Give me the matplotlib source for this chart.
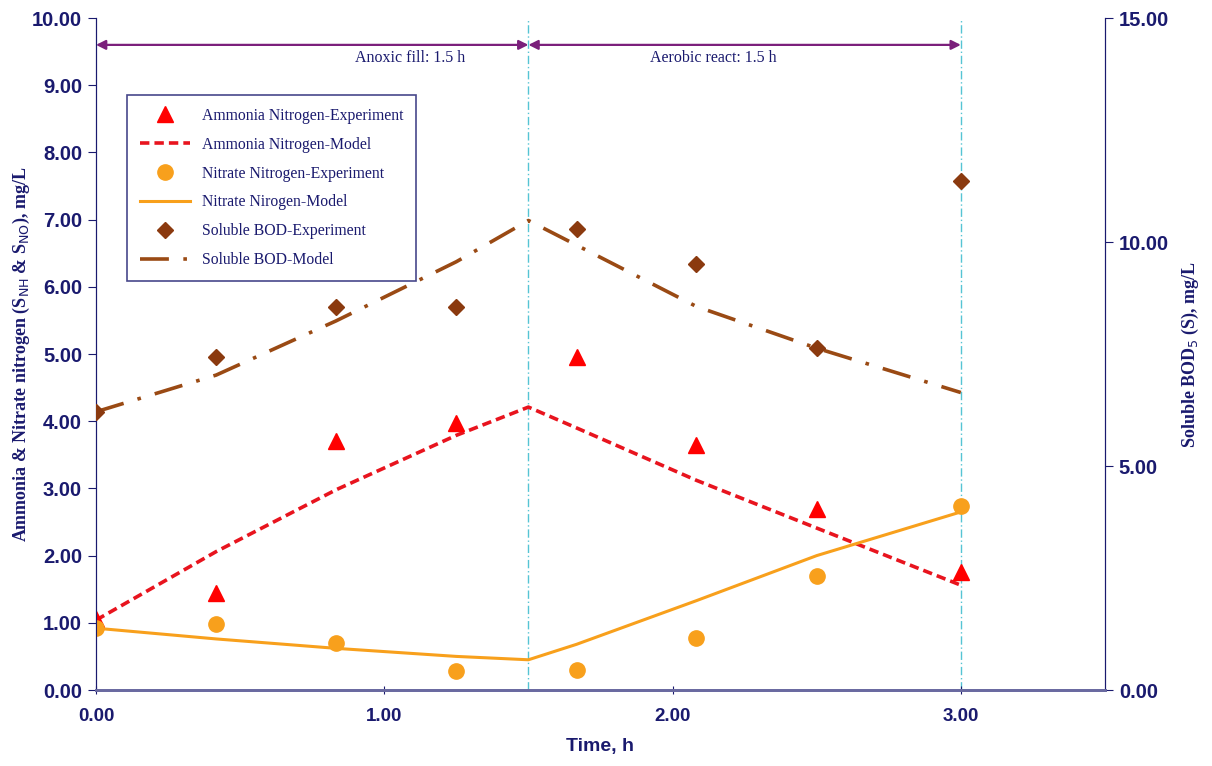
import matplotlib
matplotlib.use("Agg")
import matplotlib.pyplot as plt
import numpy as np

plt.rcParams['font.family'] = ['Liberation Sans', 'DejaVu Sans']

# === data ===
t_exp = [0.0, 0.417, 0.833, 1.25, 1.667, 2.083, 2.5, 3.0]
nh_exp = [1.05, 1.45, 3.70, 3.97, 4.96, 3.65, 2.70, 1.75]
no_exp = [0.92, 0.98, 0.70, 0.29, 0.30, 0.77, 1.70, 2.74]
bod_exp = [6.20, 7.44, 8.56, 8.56, 10.30, 9.50, 7.63, 11.37]

t_mod = [0.0, 0.417, 0.833, 1.25, 1.5, 1.667, 2.083, 2.5, 3.0]
nh_mod = [1.04, 2.06, 2.98, 3.79, 4.21, 3.90, 3.12, 2.41, 1.56]
no_mod = [0.92, 0.76, 0.62, 0.50, 0.45, 0.68, 1.33, 2.00, 2.65]
bod_mod = [6.21, 7.03, 8.24, 9.56, 10.48, 9.93, 8.56, 7.63, 6.64]

phases = [(0.0, 1.5, "Anoxic fill: 1.5 h", 1.09), (1.5, 3.0, "Aerobic react: 1.5 h", 2.14)]

navy = "#1a1a6e"
serif = ["Liberation Serif", "DejaVu Serif"]

fig = plt.figure(figsize=(12.12, 7.66), dpi=100)
ax = fig.add_axes([0.0792, 0.0992, 0.8325, 0.8773])
ax2 = ax.twinx()

# === phase markers ===
for x in [1.5, 3.0]:
    ax.axvline(x, color="#55c4d4", lw=1.0, ls=(0, (6, 2, 1, 2)), zorder=1)
for x0, x1, label, xt in phases:
    ax.annotate("", xy=(x1, 9.6), xytext=(x0, 9.6),
                arrowprops=dict(arrowstyle="<|-|>", color="#7b1f7b", lw=1.6,
                                mutation_scale=14, shrinkA=0, shrinkB=0))
    ax.text(xt, 9.4, label, ha="center", va="center", fontsize=11.5,
            family=serif, color=navy)

# === series ===
l1, = ax.plot(t_exp, nh_exp, ls="none", marker="^", ms=11, color="#ff0000",
              label="Ammonia Nitrogen-Experiment", zorder=4)
l2, = ax.plot(t_mod, nh_mod, ls=(0, (2.6, 1.4)), lw=2.6, color="#e8141e",
              label="Ammonia Nitrogen-Model", zorder=3)
l3, = ax.plot(t_exp, no_exp, ls="none", marker="o", ms=11, color="#f8a01c",
              label="Nitrate Nitrogen-Experiment", zorder=4)
l4, = ax.plot(t_mod, no_mod, ls="-", lw=2.2, color="#f8a01c",
              label="Nitrate Nirogen-Model", zorder=3)
l5, = ax2.plot(t_exp, bod_exp, ls="none", marker="D", ms=8.5, color="#8b3a0f",
               label="Soluble BOD-Experiment", zorder=4)
l6, = ax2.plot(t_mod, bod_mod, ls=(0, (8, 4, 1, 4)), lw=2.6, color="#9a4a14",
               label="Soluble BOD-Model", zorder=3)

# === axes ===
ax.set_xlim(0, 3.5)
ax.set_ylim(0, 10)
ax2.set_ylim(0, 15)
ax.set_xticks([0, 1, 2, 3])
ax.set_yticks(np.arange(0, 10.01, 1))
ax2.set_yticks([0, 5, 10, 15])
ax.set_xticklabels(["%.2f" % v for v in [0, 1, 2, 3]],
                   fontsize=13.5, fontweight="bold", color=navy)
ax.set_yticklabels(["%.2f" % v for v in np.arange(0, 10.01, 1)],
                   fontsize=14.5, fontweight="bold", color=navy)
ax2.set_yticklabels(["%.2f" % v for v in [0, 5, 10, 15]],
                    fontsize=14.5, fontweight="bold", color=navy)
ax.tick_params(axis="y", length=6, color=navy, pad=4)
ax2.tick_params(axis="y", length=6, color=navy, pad=4)
ax.tick_params(axis="x", length=6, color=navy, pad=10, direction="inout")

for a in (ax, ax2):
    a.spines["top"].set_visible(False)
    a.spines["left"].set_color(navy)
    a.spines["right"].set_color(navy)
    a.spines["bottom"].set_color("#6a6aa0")
    a.spines["bottom"].set_linewidth(2)

ax.set_xlabel("Time, h", fontsize=14, fontweight="bold", color=navy, labelpad=9)
ax.set_ylabel(r"Ammonia & Nitrate nitrogen (S$_{\mathrm{NH}}$ & S$_{\mathrm{NO}}$), mg/L",
              fontsize=13, fontweight="bold", color=navy, family=serif, labelpad=0)
ax2.set_ylabel(r"Soluble BOD$_5$ (S), mg/L", fontsize=13, fontweight="bold",
               color=navy, family=serif, labelpad=8)

leg = ax.legend(handles=[l1, l2, l3, l4, l5, l6], loc="upper left",
                bbox_to_anchor=(0.0307, 0.885), borderaxespad=0,
                prop={"family": serif, "size": 11.3},
                frameon=True, fancybox=False, edgecolor=navy, labelspacing=0.82,
                handlelength=3.2, borderpad=0.8, numpoints=1)
leg.get_frame().set_linewidth(1.2)
for txt in leg.get_texts():
    txt.set_color(navy)

fig.savefig("out.png", dpi=100)
